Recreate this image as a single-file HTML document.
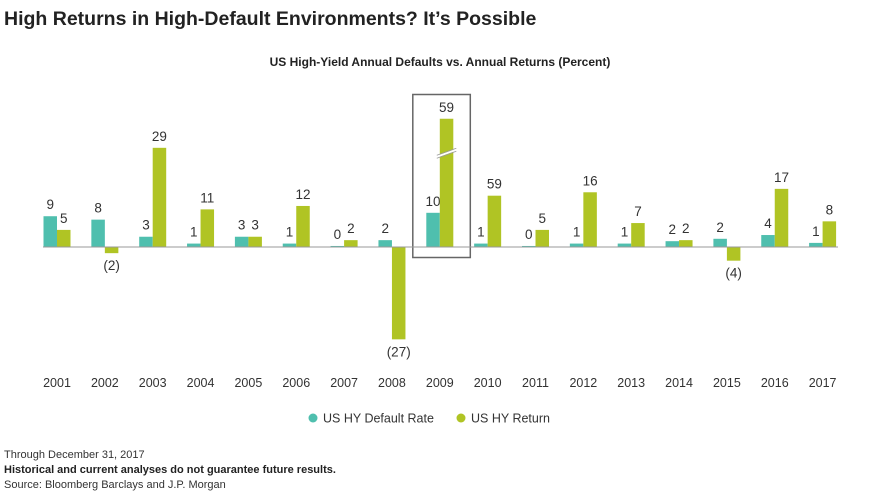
<!DOCTYPE html>
<html><head><meta charset="utf-8"><style>
body{margin:0;background:#fff;width:880px;height:494px;overflow:hidden;font-family:"Liberation Sans",sans-serif}
svg{display:block}
</style></head><body>
<svg id="chart" width="880" height="494">
<text x="4" y="25" font-size="19.5" font-weight="bold" fill="#222">High Returns in High-Default Environments? It’s Possible</text>
<text x="440" y="66" text-anchor="middle" font-size="12" font-weight="bold" fill="#222">US High-Yield Annual Defaults vs. Annual Returns (Percent)</text>
<g id="bars"></g>
<g>
<circle cx="313" cy="418" r="4.5" fill="#4fbfae"/>
<text x="323" y="422.5" font-size="12.5" fill="#333">US HY Default Rate</text>
<circle cx="461" cy="418" r="4.5" fill="#b0c424"/>
<text x="471" y="422.5" font-size="12.5" fill="#333">US HY Return</text>
</g>
<text x="4" y="458" font-size="11" fill="#333">Through December 31, 2017</text>
<text x="4" y="473" font-size="11" font-weight="bold" fill="#222">Historical and current analyses do not guarantee future results.</text>
<text x="4" y="488" font-size="11" fill="#333">Source: Bloomberg Barclays and J.P. Morgan</text>
</svg>
<script>
const years = ["2001","2002","2003","2004","2005","2006","2007","2008","2009","2010","2011","2012","2013","2014","2015","2016","2017"];
const defaults = [9,8,3,1,3,1,0.3,2,10,1,0.3,1,1,1.7,2.4,3.5,1.2];
const defaultLabels = ["9","8","3","1","3","1","0","2","10","1","0","1","1","2","2","4","1"];
const returns = [5,-1.8,29,11,3,12,2,-27,59,15,5,16,7,2,-4,17,7.5];
const returnLabels = ["5","(2)","29","11","3","12","2","(27)","59","59","5","16","7","2","(4)","17","8"];
const brokenCap = 37.5;

const NS="http://www.w3.org/2000/svg";
const g=document.getElementById("bars");
const base=247, scale=3.42, x0=57, step=47.85, bw=13.5;
const xc=i=>x0+i*step;
const y=v=>base-v*scale;
function mk(t,a){const e=document.createElementNS(NS,t);for(const k in a)e.setAttribute(k,a[k]);g.appendChild(e);return e;}
function txt(s,x,yy,name){const t=mk("text",{x:x,y:yy,"text-anchor":"middle","font-size":"13.5",fill:"#333"});t.textContent=s;


return t;}
years.forEach((yr,i)=>{
  const c=xc(i);
  const d=defaults[i];
  const r1=mk("rect",{x:c-bw,y:Math.min(y(d),base),width:bw,height:Math.abs(d*scale),fill:"#4fbfae"});
  
  
  txt(defaultLabels[i],c-bw/2,Math.min(y(d),base)-7,'default-label-'+yr);
  const broken=returns[i]>brokenCap+5;
  const rv=broken?brokenCap:returns[i];
  const r2=mk("rect",{x:c,y:Math.min(y(rv),base),width:bw,height:Math.abs(rv*scale),fill:"#b0c424"});
  
  
  if(rv>=0) txt(returnLabels[i],c+bw/2,y(rv)-7,'return-label-'+yr);
  else txt(returnLabels[i],c+bw/2,y(rv)+17,'return-label-'+yr);
  const ty=383+4;
  txt(yr,c,ty,'x-tick-'+yr).setAttribute("font-size","12.5");
  if(broken){
    const by=y(brokenCap)+33;
    const w=mk("polygon",{points:`${c-3},${by+4} ${c+bw+3},${by-3} ${c+bw+3},${by-1} ${c-3},${by+6}`,fill:"#fff"});
    
    
    const l1=mk("line",{x1:c-3,y1:by+3.5,x2:c+bw+3,y2:by-3.5,stroke:"#999","stroke-width":"0.8"});
    
    
    const l2=mk("line",{x1:c-3,y1:by+6.5,x2:c+bw+3,y2:by-0.5,stroke:"#999","stroke-width":"0.8"});
    
    
    const box=mk("rect",{x:c-27,y:94.5,width:57.5,height:163,fill:"none",stroke:"#666","stroke-width":"1.5"});
    
    
  }
});
const ax=mk("line",{x1:43,y1:base,x2:838,y2:base,stroke:"#999","stroke-width":"1"});


</script>
</body></html>
